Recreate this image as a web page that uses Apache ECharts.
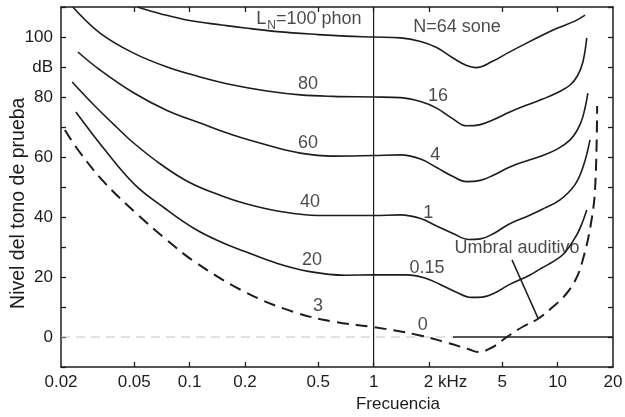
<!DOCTYPE html>
<html><head><meta charset="utf-8">
<script src="https://cdn.jsdelivr.net/npm/echarts@6/dist/echarts.min.js"></script>
<style>html,body{margin:0;padding:0;background:#fff}#c{width:625px;height:417px}</style>
</head><body><div id="c"></div>
<script>
// ---- tick labels ----
const xTickLabels = [0.02, 0.05, 0.1, 0.2, 0.5, 1, 2, 5, 10, 20];
const xTickMarks = [0.05, 0.1, 0.2, 0.5, 1, 2, 5, 10];
const yMin = -10, yMax = 110, yStep = 10;

// ---- equal-loudness contours (frequency in kHz, level in dB) ----
const freq100 = [0.052,0.07,0.1,0.15,0.2,0.3,0.5,0.7,1,1.4,1.8,2.2,2.7,3.2,3.6,4.4,5.4,6.7,8.2,10,12.4,14.1];
const db100   = [110,107.7,105.5,104,103,101.8,100.8,100.3,100,99.7,98.5,96.5,93,90.5,89.8,91.8,94.8,97.8,100.5,103,105.3,107.3];

const freq80 = [0.0232,0.0326,0.0493,0.0754,0.114,0.172,0.263,0.4,0.6,1,1.4,1.8,2.2,2.7,3.2,3.8,4.5,5.5,7,8.3,10,11.7,12.8,13.7,14.4];
const db80   = [110,101.3,94.7,90,86.7,84,82,80.7,80.2,80,79.8,78.5,76.3,72.7,70.4,70.8,72.5,75,77.6,79.3,81.5,84,87,91.5,99.7];

const freq60 = [0.0247,0.0326,0.0493,0.0754,0.114,0.172,0.263,0.4,0.6,1,1.4,1.8,2.2,2.7,3.2,3.8,4.5,5.5,7,8.3,10,11.7,12.8,13.7,14.6];
const db60   = [95,89,81.5,75.5,71.3,67.3,64,61.3,60.3,60.5,60.7,59.3,56.5,53.5,51.8,52.2,54,56.7,59,60.5,62.7,65.7,69,73.3,81.3];

const freq40 = [0.023,0.03,0.04,0.05,0.07,0.1,0.15,0.2,0.3,0.5,1,1.4,1.8,2.2,2.7,3.3,3.8,4.5,5.4,7,8.2,10.3,12.4,13.8,15];
const db40   = [85,77.5,70,64.5,57.5,51.5,47,44.5,42,40.5,40.5,40.7,39.5,37,34.5,32.5,32.7,34.5,37.5,40.5,42.5,45.7,50.7,57,65.7];

const freq20 = [0.0241,0.0347,0.0505,0.073,0.107,0.15,0.2,0.3,0.45,0.7,1,1.5,1.9,2.3,2.8,3.4,3.9,4.6,5.4,7,8.2,9.5,10.9,12.7,13.6,14.4];
const db20   = [75,62.3,50.7,43,36,31.5,28.5,24.5,21.8,20.6,20.7,20.7,19.7,17.5,15,13.2,13.3,14.8,17.3,20.5,23,25.2,28,34,38,42.3];

// hearing threshold (dashed)
const freqTh = [0.021,0.025,0.0347,0.0524,0.073,0.107,0.2,0.37,0.62,1,1.74,2.44,3.26,3.7,4.4,5.3,6.5,7.8,9.2,11,12.5,13.6,15.1,16,16.4];
const dbTh   = [69,62,51.3,40.7,33,25,15,8.3,5,3.3,0.7,-1.7,-4,-5,-3.5,0,3.5,6,9.5,14,19,25,37,50,77];

// ---- annotations: text and anchor (freq kHz, dB) ----
const annoText = ['{a|L}{s|N}{a|=100 phon}','N=64 sone','80','60','40','20','3','16','4','1','0.15','0','Umbral auditivo'];
const annoFreq = [0.445,2.84,0.44,0.44,0.451,0.462,0.498,2.24,2.16,1.98,1.95,1.85,6.01];
const annoDb   = [106,103.3,84.3,64.7,45,25.7,10.3,80.3,60.7,41.3,23,4,29.7];

// leader line of "Umbral auditivo"
const leaderFreq = [5.65, 7.82];
const leaderDb = [25.7, 6.3];
// reference lines
const refLineFreq = [1, 1];          // vertical line at 1 kHz
const refLineDb = [-10, 110];
const zeroFaintFreq = [0.02, 2.7];   // 0 dB line, faint part
const zeroSolidFreq = [2.7, 20];     // 0 dB line, solid part
const zeroDb = [0, 0];

const INK = '#1c1c1c';
const FONT = "'Liberation Sans', Arial, sans-serif";
const pairs = (f, d) => f.map((v, i) => [v, d[i]]);

function curve(f, d, lineStyle) {
  return {
    type: 'line', data: pairs(f, d), showSymbol: false, smooth: 0.4,
    lineStyle: lineStyle || { color: INK, width: 1.6 }, silent: true, z: 3
  };
}
function straight(f, d, lineStyle) {
  return { type: 'line', data: pairs(f, d), showSymbol: false, smooth: false, lineStyle, silent: true, z: 2 };
}

const chart = echarts.init(document.getElementById('c'), null, { renderer: 'canvas' });
chart.setOption({
  animation: false,
  backgroundColor: '#fff',
  textStyle: { fontFamily: FONT, color: INK },
  grid: { left: 61, right: 12, top: 7, bottom: 50, containLabel: false, outerBoundsMode: 'none' },
  xAxis: [{
    type: 'log', logBase: 10, min: 0.02, max: 20,
    axisLine: { onZero: false, lineStyle: { color: INK, width: 1.5 } },
    axisTick: { inside: true, length: 5, customValues: xTickMarks, lineStyle: { color: INK, width: 1.3 } },
    axisLabel: {
      customValues: xTickLabels, margin: 7, fontSize: 17, color: INK, fontFamily: FONT,
      formatter: v => (Math.abs(v - 2) < 1e-9 ? '{k|2 kHz}' : String(v)),
      rich: { k: { fontSize: 17, fontFamily: FONT, color: INK, padding: [0, 0, 0, 33] } }
    },
    splitLine: { show: false },
    name: 'Frecuencia', nameLocation: 'middle', nameGap: 29,
    nameTextStyle: { fontSize: 17, color: INK, fontFamily: FONT, padding: [0, 0, 0, 122] }
  }, {
    type: 'log', logBase: 10, min: 0.02, max: 20, position: 'top',
    axisLine: { onZero: false, lineStyle: { color: INK, width: 1.5 } },
    axisTick: { inside: true, length: 5, customValues: xTickMarks, lineStyle: { color: INK, width: 1.3 } },
    axisLabel: { show: false }, splitLine: { show: false }
  }],
  yAxis: [{
    type: 'value', min: yMin, max: yMax, interval: yStep,
    axisLine: { show: true, onZero: false, lineStyle: { color: INK, width: 1.5 } },
    axisTick: { show: true, inside: true, length: 5, lineStyle: { color: INK, width: 1.3 } },
    axisLabel: {
      margin: 8, fontSize: 17, color: INK, fontFamily: FONT,
      formatter: v => (v === 90 ? 'dB' : (v >= 0 && v <= 100 && v % 20 === 0 ? String(v) : ''))
    },
    splitLine: { show: false },
    name: 'Nivel del tono de prueba' + '\u00a0'.repeat(6), nameLocation: 'middle', nameGap: 32,
    nameMoveOverlap: false,
    nameTextStyle: { fontSize: 19.5, color: INK, fontFamily: FONT }
  }, {
    type: 'value', min: yMin, max: yMax, interval: yStep, position: 'right',
    axisLine: { show: true, onZero: false, lineStyle: { color: INK, width: 1.5 } },
    axisTick: { show: true, inside: true, length: 5, lineStyle: { color: INK, width: 1.3 } },
    axisLabel: { show: false }, splitLine: { show: false }
  }],
  series: [
    straight(refLineFreq, refLineDb, { color: INK, width: 1.2 }),
    straight(zeroFaintFreq, zeroDb, { color: '#c4c4c4', width: 1, type: [9, 6] }),
    straight(zeroSolidFreq, zeroDb, { color: INK, width: 1.5 }),
    curve(freq100, db100),
    curve(freq80, db80),
    curve(freq60, db60),
    curve(freq40, db40),
    curve(freq20, db20),
    curve(freqTh, dbTh, { color: INK, width: 2, type: [12, 7] }),
    straight(leaderFreq, leaderDb, { color: INK, width: 1.5 }),
    {
      type: 'scatter', symbolSize: 0, silent: true, z: 5,
      data: annoText.map((t, i) => ({ name: t, value: [annoFreq[i], annoDb[i]] })),
      label: {
        show: true, position: 'inside', color: INK, fontSize: 18, fontFamily: FONT,
        formatter: p => p.name,
        rich: {
          a: { fontSize: 18, lineHeight: 18, verticalAlign: 'top', fontFamily: FONT, color: INK },
          s: { fontSize: 12, lineHeight: 12, verticalAlign: 'top', padding: [10, 0, 0, 1], fontFamily: FONT, color: INK }
        }
      }
    }
  ]
});
</script></body></html>
